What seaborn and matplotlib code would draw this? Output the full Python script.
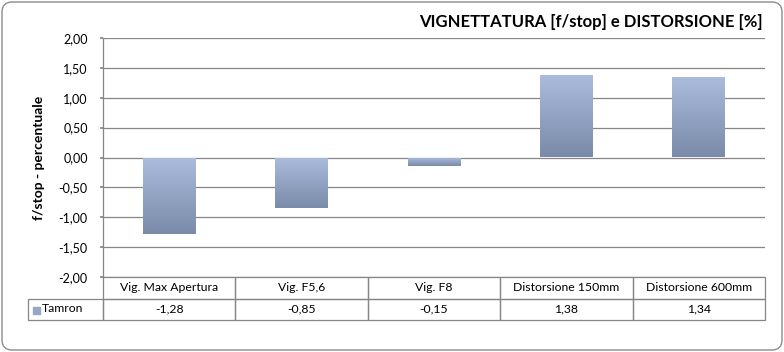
import matplotlib.pyplot as plt
import matplotlib.ticker as ticker
from matplotlib.colors import LinearSegmentedColormap
from matplotlib.patches import FancyBboxPatch, Rectangle
import numpy as np
import pandas as pd
import seaborn as sns

# Dati del grafico
categories = ['Vig. Max Apertura', 'Vig. F5,6', 'Vig. F8', 'Distorsione 150mm', 'Distorsione 600mm']
tamron = [-1.28, -0.85, -0.15, 1.38, 1.34]
value_labels = ['-1,28', '-0,85', '-0,15', '1,38', '1,34']
serie = 'Tamron'
title = 'VIGNETTATURA [f/stop] e DISTORSIONE [%]'
ylabel = 'f/stop - percentuale'

GRID = '#868686'

sns.set_theme(style='white')
plt.rcParams['font.family'] = ['Lato', 'DejaVu Sans']
plt.rcParams['text.color'] = 'black'
plt.rcParams['axes.labelcolor'] = 'black'
plt.rcParams['ytick.color'] = 'black'

df = pd.DataFrame({'categoria': categories, 'valore': tamron})

fig = plt.figure(figsize=(7.84, 3.52), dpi=100)
W, H = 784, 352
ax = fig.add_axes([103 / W, 1 - 277 / H, 662 / W, 239 / H])

sns.barplot(data=df, x='categoria', y='valore', color='#95A6C6',
            width=0.4, saturation=1, ax=ax, zorder=3)

# Gradiente verticale sulle barre (chiaro in alto, scuro in basso)
cmap = LinearSegmentedColormap.from_list('grad', ['#7A8AA9', '#ABBCDD'])
grad = np.linspace(0, 1, 256).reshape(-1, 1)
for bar in ax.patches:
    x0, w = bar.get_x(), bar.get_width()
    y0, h = bar.get_y(), bar.get_height()
    lo, hi = min(y0, y0 + h), max(y0, y0 + h)
    im = ax.imshow(grad, cmap=cmap, origin='lower', extent=[x0, x0 + w, lo, hi],
                   aspect='auto', zorder=3)
    im.set_clip_path(bar)
    bar.set_facecolor('none')
    bar.set_edgecolor('none')

ax.set_xlim(-0.5, 4.5)
ax.set_ylim(-2, 2)
ax.yaxis.set_major_locator(ticker.MultipleLocator(0.5))
ax.yaxis.set_major_formatter(ticker.FuncFormatter(lambda v, _: f'{v:.2f}'.replace('.', ',')))
ax.grid(axis='y', color=GRID, lw=0.9)
ax.set_axisbelow(True)
for s in ['top', 'right', 'bottom']:
    ax.spines[s].set_visible(False)
ax.spines['left'].set_color(GRID)
ax.spines['left'].set_linewidth(0.9)
ax.tick_params(axis='y', left=True, length=2, color=GRID, labelcolor='black', labelsize=9, pad=9)
ax.set_xticks([])
ax.set_xlabel('')
ax.set_ylabel(ylabel, fontsize=10, fontweight='bold', color='black')
ax.yaxis.set_label_coords((45 - 103) / 662, 0.5)

# Tabella dati sotto il grafico
first_w = 75
col_w = 662 / 5
total_w = first_w + 5 * col_w
table = ax.table(cellText=[[''] + categories, [''] + value_labels],
                 cellLoc='center',
                 colWidths=[first_w / total_w] + [col_w / total_w] * 5,
                 bbox=[(28 - 103) / 662, (277 - 320) / 239, total_w / 662, 43 / 239])
table.auto_set_font_size(False)
table.set_fontsize(8.8)
for (r, c), cell in table.get_celld().items():
    cell.set_edgecolor(GRID)
    cell.set_linewidth(0.9)
    cell.set_facecolor('none')
    cell.get_text().set_color('black')
    if r == 0 and c == 0:
        cell.visible_edges = ''

fig.add_artist(Rectangle((33, H - 314), 7, 7, transform=None, color='#95A6C6'))
fig.text(42 / W, 1 - 309 / H, serie, fontsize=8.8, ha='left', va='center')

fig.text(763 / W, 1 - 22 / H, title, fontsize=12, fontweight='bold', ha='right', va='center')

fig.add_artist(FancyBboxPatch((2, 2), 780, 348, boxstyle='round,pad=0,rounding_size=10',
                              transform=None, fill=False, ec='#8C8C8C', lw=1))

fig.savefig('out.png', dpi=100)
